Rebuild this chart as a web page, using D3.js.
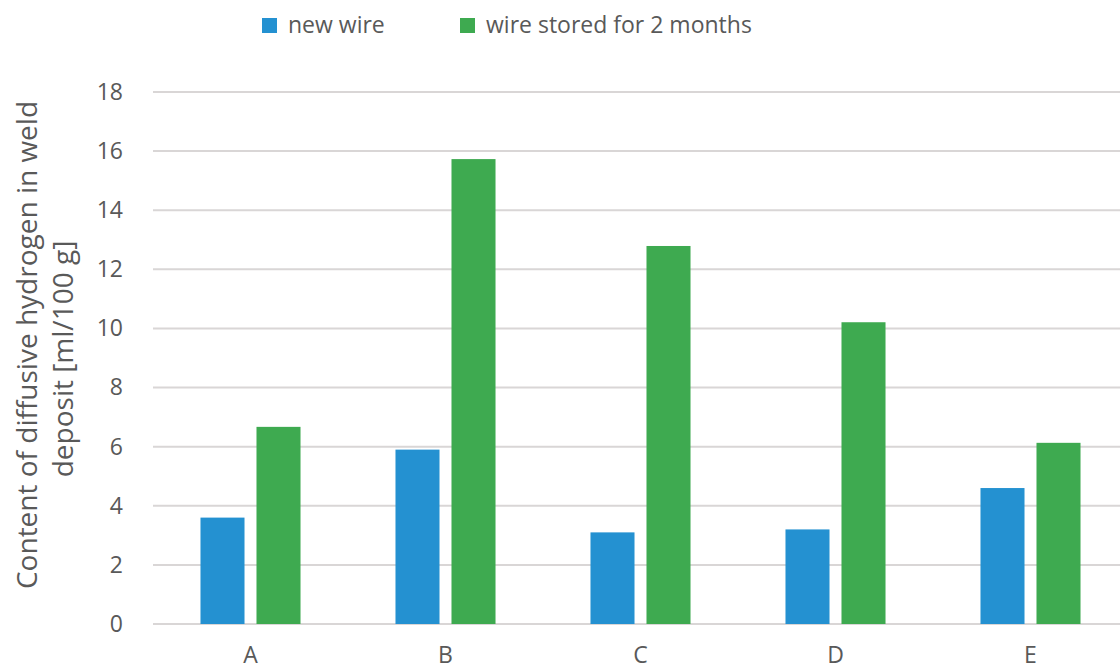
<!DOCTYPE html>
<meta charset="utf-8">
<style>
body { margin: 0; background: #fff; }
.axis text { font-family: "Open Sans", sans-serif; fill: #595959; }
</style>
<body>
<div id="chart"></div>
<script src="https://d3js.org/d3.v7.min.js"></script>
<script>
var categories = ["A", "B", "C", "D", "E"];
var seriesNames = ["new wire", "wire stored for 2 months"];
var newWire = [3.6, 5.9, 3.1, 3.2, 4.6];
var storedWire = [6.67, 15.73, 12.79, 10.21, 6.13];
var yTicks = [0, 2, 4, 6, 8, 10, 12, 14, 16, 18];
var colors = ["#2491D1", "#3EAA50"];

var width = 1120, height = 672;
var margin = {top: 92, left: 153, bottom: 48};

var svg = d3.select("#chart").append("svg")
  .attr("width", width)
  .attr("height", height);

// group step is 195px, plot runs past the right edge of the picture
var x0 = d3.scaleBand()
  .domain(categories)
  .range([margin.left, margin.left + 5 * 195])
  .paddingInner(0.487)
  .paddingOuter(0.2435);

var x1 = d3.scaleBand()
  .domain([0, 1])
  .range([0, x0.bandwidth()])
  .paddingInner(0.214);

var y = d3.scaleLinear()
  .domain([0, 18])
  .range([height - margin.bottom, margin.top]);

// gridlines
svg.append("g")
  .selectAll("line")
  .data(yTicks)
  .enter().append("line")
  .attr("x1", margin.left)
  .attr("x2", width)
  .attr("y1", function(d) { return y(d); })
  .attr("y2", function(d) { return y(d); })
  .attr("stroke", "#d9d6d6")
  .attr("stroke-width", 2);

// y axis labels
var yAxis = svg.append("g")
  .attr("class", "axis")
  .attr("transform", "translate(123,0)")
  .call(d3.axisLeft(y).tickValues(yTicks).tickSize(0).tickPadding(0));
yAxis.select(".domain").remove();
yAxis.selectAll("text").style("font-size", "23px");

// x axis labels (kept just inside the bottom edge)
var xAxis = svg.append("g")
  .attr("class", "axis")
  .attr("transform", "translate(0,647)")
  .call(d3.axisBottom(x0).tickSize(0).tickPadding(0));
xAxis.select(".domain").remove();
xAxis.selectAll("text").style("font-size", "23px");

// bars
var rows = categories.map(function(c, i) {
  return {cat: c, values: [newWire[i], storedWire[i]]};
});

svg.append("g")
  .selectAll("g")
  .data(rows)
  .enter().append("g")
  .attr("transform", function(d) { return "translate(" + x0(d.cat) + ",0)"; })
  .selectAll("rect")
  .data(function(d) { return d.values; })
  .enter().append("rect")
  .attr("x", function(d, i) { return x1(i); })
  .attr("width", x1.bandwidth())
  .attr("y", function(d) { return y(d); })
  .attr("height", function(d) { return y(0) - y(d); })
  .attr("fill", function(d, i) { return colors[i]; });

// y axis title
var title = svg.append("text")
  .attr("transform", "translate(0,352) rotate(-90)")
  .attr("font-family", "Open Sans, sans-serif")
  .attr("font-size", "28px")
  .attr("fill", "#595959")
  .style("text-anchor", "middle");
title.append("tspan").attr("x", 7).attr("y", 37).text("Content of diffusive hydrogen in weld");
title.append("tspan").attr("x", -7).attr("y", 73).text("deposit [ml/100 g]");

// legend
var legendX = [262, 460];
var legend = svg.append("g")
  .selectAll("g")
  .data(seriesNames)
  .enter().append("g")
  .attr("transform", function(d, i) { return "translate(" + legendX[i] + ",18)"; });

legend.append("rect")
  .attr("width", 15)
  .attr("height", 15)
  .attr("fill", function(d, i) { return colors[i]; });

legend.append("text")
  .attr("x", 26)
  .attr("y", 15)
  .attr("font-family", "Open Sans, sans-serif")
  .attr("font-size", "23px")
  .attr("fill", "#595959")
  .text(function(d) { return d; });
</script>
</body>
